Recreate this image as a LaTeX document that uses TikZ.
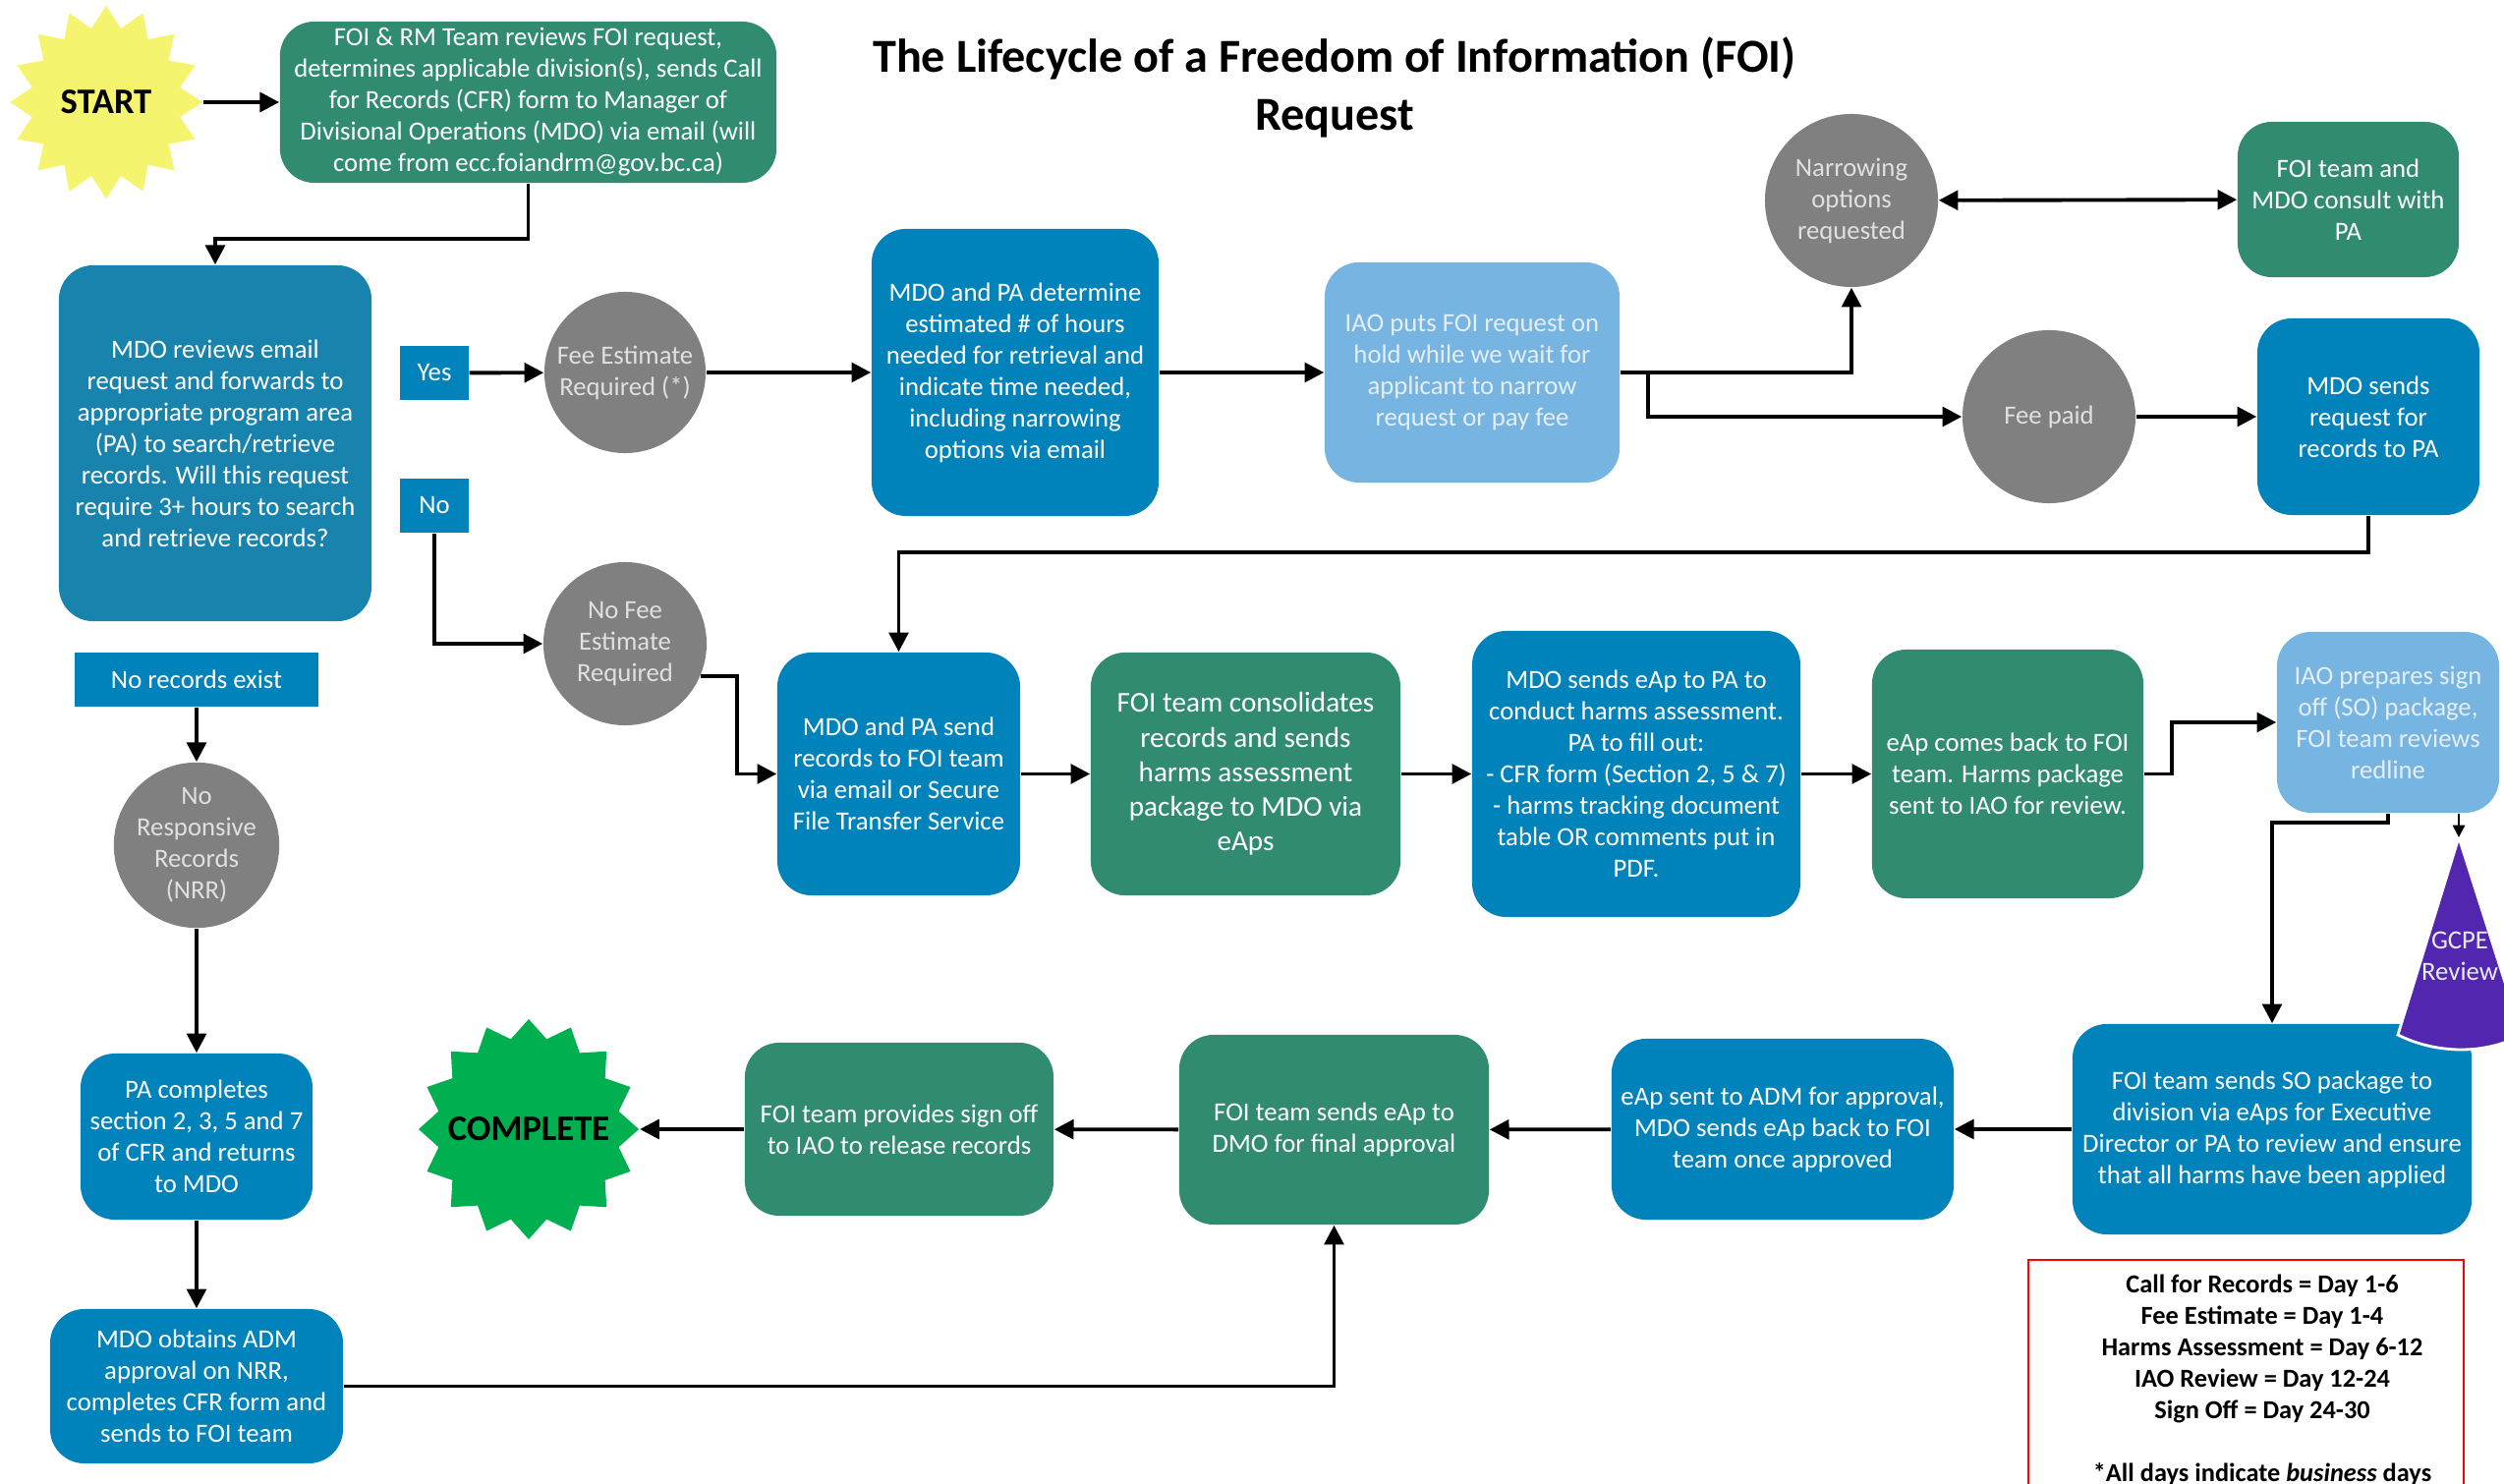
\documentclass[tikz,border=0pt]{standalone}
\usepackage{fontspec}
\setmainfont{Carlito}
\usepackage{pgf,tikz}
\usetikzlibrary{arrows.meta}
\usetikzlibrary{shapes.geometric}
\definecolor{foigreen}{HTML}{318B70}
\definecolor{mdoblue}{HTML}{0082BA}
\definecolor{revblue}{HTML}{1883AC}
\definecolor{iaoblue}{HTML}{76B4E1}
\definecolor{circgrey}{HTML}{808080}
\definecolor{startyel}{HTML}{F4F46E}
\definecolor{endgreen}{HTML}{00B050}
\definecolor{gcpepurple}{HTML}{5326B0}
\definecolor{paletext}{HTML}{E6EEF5}
\tikzset{>={Triangle[length=5.6pt,width=5.6pt]},
  flow/.style={->, line width=1.1pt},
  box/.style={rounded corners=0.35cm, align=center, inner sep=0pt, text=white,
    font=\fontsize{7.6}{9.1}\selectfont},
  greenbox/.style={box, fill=foigreen},
  bluebox/.style={box, fill=mdoblue},
  palebox/.style={box, fill=iaoblue, text=paletext},
  tag/.style={fill=mdoblue, text=white, align=center, inner sep=0pt,
    font=\fontsize{7.6}{9.1}\selectfont},
  greycirc/.style={circle, fill=circgrey, text=white!88!black, align=center,
    inner sep=0pt, font=\fontsize{7.6}{9.1}\selectfont},
  burst/.style={star, star points=16, inner sep=0pt},
  bursttext/.style={font=\bfseries\fontsize{10.4}{12}\selectfont}}
\begin{document}
\begin{tikzpicture}[x=0.01cm,y=-0.01cm]
      \useasboundingbox (0,0) rectangle (2548,1510);

      \node [font=\bfseries\fontsize{13.7}{16.6}\selectfont, align=center] (title) at (1358,89) {The Lifecycle of a Freedom of Information (FOI)\\Request};

      \node [burst, star point ratio=1.28, fill=startyel, minimum size=1.96cm, label={[bursttext]center:START}] (start) at (108,104) {};
      \node [greenbox, minimum width=5.05cm, minimum height=1.64cm] (foi) at (537.5,104) {FOI \& RM Team reviews FOI request,\\determines applicable division(s), sends Call\\for Records (CFR) form to Manager of\\Divisional Operations (MDO) via email (will\\come from ecc.foiandrm@gov.bc.ca)};

      \node [box, fill=revblue, minimum width=3.18cm, minimum height=3.62cm] (review) at (219,451) {MDO reviews email\\request and forwards to\\appropriate program area\\(PA) to search/retrieve\\records. Will this request\\require 3+ hours to search\\and retrieve records?};
      \node [tag, minimum width=0.7cm, minimum height=0.55cm] (yes) at (442,379.5) {Yes};
      \node [tag, minimum width=0.7cm, minimum height=0.55cm] (no) at (442,514.5) {No};
      \node [greycirc, minimum size=1.64cm] (fee) at (636,379) {Fee Estimate\\Required (*)};
      \node [greycirc, minimum size=1.66cm] (nofee) at (636,655) {No Fee\\Estimate\\Required};
      \node [tag, minimum width=2.48cm, minimum height=0.55cm] (norec) at (200,691.5) {No records exist};
      \node [greycirc, minimum size=1.65cm] (nrr) at (200,860) {No\\Responsive\\Records\\(NRR)};
      \node [bluebox, minimum width=2.36cm, minimum height=1.69cm] (pacomp) at (200,1156.5) {PA completes\\section 2, 3, 5 and 7\\of CFR and returns\\to MDO};
      \node [bluebox, minimum width=2.98cm, minimum height=1.57cm] (mdoadm) at (200,1410.5) {MDO obtains ADM\\approval on NRR,\\completes CFR form and\\sends to FOI team};

      \node [bluebox, minimum width=2.92cm, minimum height=2.92cm] (determine) at (1033,379) {MDO and PA determine\\estimated \# of hours\\needed for retrieval and\\indicate time needed,\\including narrowing\\options via email};
      \node [palebox, minimum width=3.0cm, minimum height=2.24cm] (iaoput) at (1498,379) {IAO puts FOI request on\\hold while we wait for\\applicant to narrow\\request or pay fee};
      \node [greycirc, minimum size=1.76cm] (narrow) at (1884,204) {Narrowing\\options\\requested};
      \node [greenbox, minimum width=2.25cm, minimum height=1.58cm] (consult) at (2389.5,203) {FOI team and\\MDO consult with\\PA};
      \node [greycirc, minimum size=1.76cm] (feepaid) at (2085,424) {Fee paid};
      \node [bluebox, minimum width=2.26cm, minimum height=2.0cm] (mdoreq) at (2410,424) {MDO sends\\request for\\records to PA};

      \node [bluebox, minimum width=2.47cm, minimum height=2.47cm] (mdosend) at (914.5,787.5) {MDO and PA send\\records to FOI team\\via email or Secure\\File Transfer Service};
      \node [greenbox, minimum width=3.15cm, minimum height=2.47cm, font=\fontsize{8.3}{10}\selectfont] (consol) at (1267.5,787.5) {FOI team consolidates\\records and sends\\harms assessment\\package to MDO via\\eAps};
      \node [bluebox, minimum width=3.34cm, minimum height=2.91cm] (harms) at (1665,787.5) {MDO sends eAp to PA to\\conduct harms assessment.\\PA to fill out:\\- CFR form (Section 2, 5 \& 7)\\- harms tracking document\\table OR comments put in\\PDF.};
      \node [greenbox, minimum width=2.76cm, minimum height=2.53cm] (eapback) at (2043,787.5) {eAp comes back to FOI\\team. Harms package\\sent to IAO for review.};
      \node [palebox, minimum width=2.26cm, minimum height=1.84cm] (iaoprep) at (2430,735) {IAO prepares sign\\off (SO) package,\\FOI team reviews\\redline};

      \node [bluebox, minimum width=4.06cm, minimum height=2.14cm] (sosend) at (2312,1149) {FOI team sends SO package to\\division via eAps for Executive\\Director or PA to review and ensure\\that all harms have been applied};
      \node [bluebox, minimum width=3.48cm, minimum height=1.84cm] (admbox) at (1814,1149) {eAp sent to ADM for approval,\\MDO sends eAp back to FOI\\team once approved};
      \node [greenbox, minimum width=3.15cm, minimum height=1.93cm] (dmo) at (1357.5,1149.5) {FOI team sends eAp to\\DMO for final approval};
      \node [greenbox, minimum width=3.14cm, minimum height=1.76cm] (signoff) at (915,1149) {FOI team provides sign off\\to IAO to release records};
      \node [burst, star point ratio=1.2, fill=endgreen, minimum size=2.24cm, label={[bursttext]center:COMPLETE}] (complete) at (538,1149) {};

      \coordinate (gtop) at (2502,852);
      \filldraw [fill=gcpepurple, draw=white, line width=0.8pt] (gtop) -- (2440,1053) .. controls (2480,1073) and (2530,1073) .. (2566,1053) -- cycle;
      \node [text=paletext, align=center, font=\fontsize{7.6}{9.1}\selectfont] (gcpe) at (2503,973) {GCPE\\Review};

      \draw [red, line width=0.8pt] (2064,1530) |- (2507,1282) -- (2507,1530);
      \node [align=center, font=\bfseries\fontsize{7.5}{9.1}\selectfont] (days) at (2302,1404) {Call for Records = Day 1-6\\Fee Estimate = Day 1-4\\Harms Assessment = Day 6-12\\IAO Review = Day 12-24\\Sign Off = Day 24-30\\[9.1pt]*All days indicate \textit{business} days};

      \coordinate (j1) at (0,243);
      \coordinate (j2) at (0,562);
      \coordinate (j3) at (750,0);
      \coordinate (j4) at (2210,0);
      \coordinate (j5) at (0,837);
      \coordinate (split) at (1677,379);
      \draw [flow] (start) -- (foi);
      \draw [flow] (foi.south) -- (foi.south |- j1) -| (review.north);
      \draw [flow] (yes) -- (fee);
      \draw [flow] (no.south) |- (nofee.west);
      \draw [flow] (fee) -- (determine);
      \draw [flow] (determine) -- (iaoput);
      \draw [flow] (iaoput.east) -| (narrow.south);
      \draw [flow] (split) |- (feepaid.west);
      \draw [flow, <->] (narrow) -- (consult);
      \draw [flow] (feepaid) -- (mdoreq);
      \draw [flow] (mdoreq.south) -- (mdoreq.south |- j2) -| (mdosend.north);
      \draw [flow] (nofee.-23) -| (j3 |- mdosend.west) -- (mdosend.west);
      \draw [flow] (mdosend) -- (consol);
      \draw [flow] (consol) -- (harms);
      \draw [flow] (harms) -- (eapback);
      \draw [flow] (eapback.east) -| (j4 |- iaoprep.west) -- (iaoprep.west);
      \draw [flow] (iaoprep.south) -- (iaoprep.south |- j5) -| (sosend.north);
      \draw [->, line width=0.6pt, >={Triangle[length=3.5pt,width=3.5pt]}] (iaoprep.south -| gtop) -- (gtop);
      \draw [flow] (sosend) -- (admbox);
      \draw [flow] (admbox) -- (dmo);
      \draw [flow] (dmo) -- (signoff);
      \draw [flow] (signoff) -- (complete);
      \draw [flow] (norec) -- (nrr);
      \draw [flow] (nrr) -- (pacomp);
      \draw [flow] (pacomp) -- (mdoadm);
      \draw [flow] (mdoadm.east) -| (dmo.south);
\end{tikzpicture}
\end{document}
